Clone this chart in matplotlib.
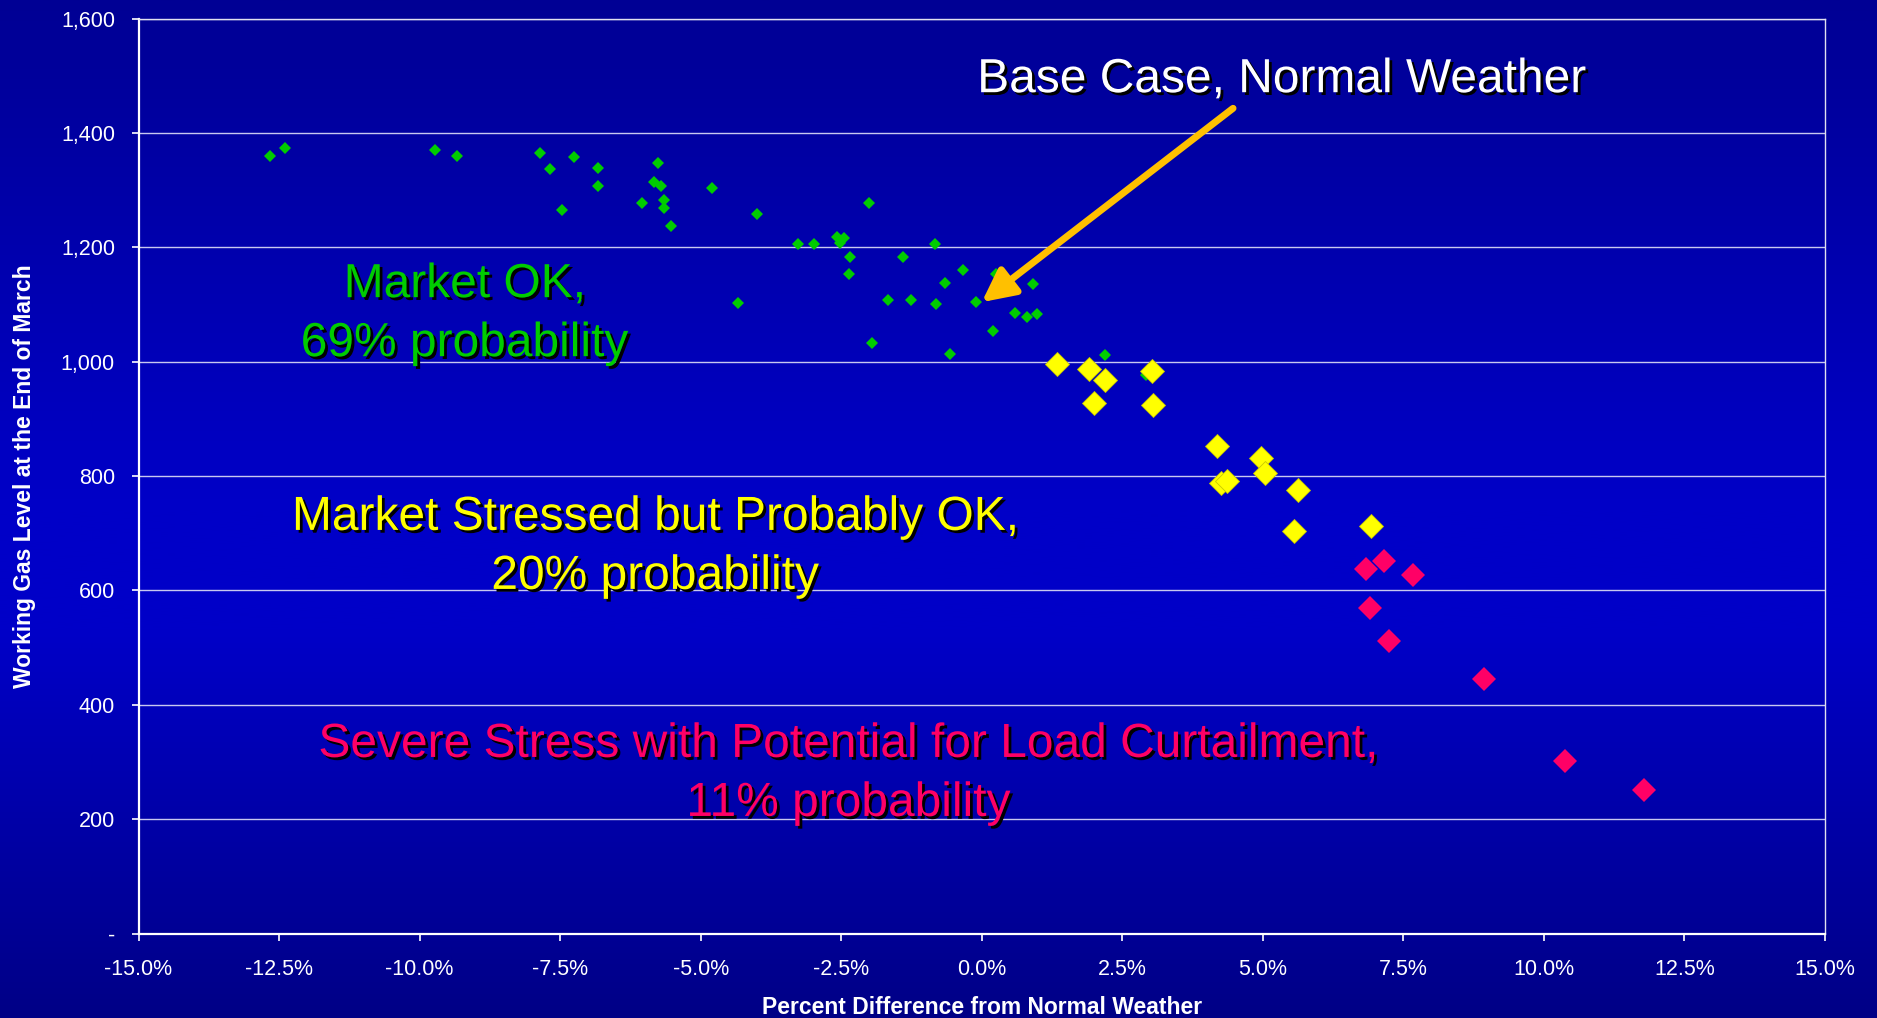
import matplotlib
matplotlib.use("Agg")
import matplotlib.pyplot as plt
import matplotlib.patheffects as pe
from matplotlib.ticker import FuncFormatter
import numpy as np

plt.rcParams['font.family'] = ['Liberation Sans', 'DejaVu Sans']

# Market OK points (percent diff, working gas)
ok_x = [-12.66, -12.40, -9.72, -9.34, -7.85, -7.68, -7.47, -7.25, -6.83, -6.83,
        -6.05, -5.83, -5.76, -5.70, -5.66, -5.65, -5.52, -4.80, -4.33, -3.99,
        -3.27, -2.98, -2.57, -2.45, -2.52, -2.35, -2.37, -2.01, -1.95, -1.66,
        -1.40, -1.25, -0.84, -0.81, -0.65, -0.56, -0.33, -0.11, 0.20, 0.26,
        0.36, 0.60, 0.81, 0.91, 0.99, 2.20, 2.92]
ok_y = [1359, 1374, 1370, 1359, 1365, 1337, 1266, 1358, 1338, 1308,
        1277, 1314, 1347, 1307, 1282, 1269, 1238, 1303, 1102, 1259,
        1206, 1205, 1218, 1217, 1207, 1183, 1153, 1278, 1032, 1107,
        1183, 1107, 1205, 1101, 1138, 1013, 1161, 1105, 1053, 1154,
        1149, 1085, 1078, 1136, 1083, 1011, 976]

# Market stressed points
st_x = [1.34, 1.91, 2.20, 1.99, 3.03, 3.05, 4.19, 4.25, 4.36, 4.97, 5.03, 5.62, 5.55, 6.93]
st_y = [996, 988, 968, 927, 983, 925, 853, 788, 792, 832, 805, 776, 703, 713]

# Severe stress points
sv_x = [6.84, 7.15, 7.67, 6.91, 7.25, 8.94, 10.37, 11.78]
sv_y = [638, 652, 627, 569, 511, 445, 302, 251]

x_ticks = np.arange(-15.0, 15.1, 2.5)
y_ticks = np.arange(0, 1601, 200)

fig = plt.figure(figsize=(18.77, 10.18), dpi=100)

# background gradient
bg = fig.add_axes([0, 0, 1, 1], zorder=-10)
stops = [0.0, 0.5, 0.62, 1.0]
blues = [0x94, 0xC8, 0xC8, 0x86]
t = np.linspace(0, 1, 512)
b = np.interp(t, stops, blues) / 255.0
grad = np.zeros((512, 1, 3))
grad[:, 0, 2] = b
bg.imshow(grad, aspect='auto', extent=[0, 1, 0, 1], interpolation='bilinear')
bg.set_axis_off()

ax = fig.add_axes([0.0738, 0.0830, 0.8985, 0.8988])
ax.set_facecolor('none')

green = '#00CC00'
yellow = '#FFFF00'
red = '#FF0066'

ax.plot(ok_x, ok_y, 'D', color=green, markersize=6.5, markeredgewidth=0, zorder=3)
ax.plot(st_x, st_y, 'D', color=yellow, markersize=12.5, markeredgecolor='#C8C800',
        markeredgewidth=0.6, zorder=4)
ax.plot(sv_x, sv_y, 'D', color=red, markersize=12.5, markeredgewidth=0, zorder=5)

ax.set_xlim(-15, 15)
ax.set_ylim(0, 1600)
ax.set_xticks(x_ticks)
ax.set_yticks(y_ticks)
ax.xaxis.set_major_formatter(FuncFormatter(lambda v, p: f'{v:.1f}%'))
ax.yaxis.set_major_formatter(FuncFormatter(lambda v, p: '-' if v == 0 else f'{v:,.0f}'))

ax.grid(axis='y', color='#C8C8F0', linewidth=1.0)
ax.set_axisbelow(True)
for s in ['left', 'bottom']:
    ax.spines[s].set_color('white')
    ax.spines[s].set_linewidth(1.6)
for s in ['top', 'right']:
    ax.spines[s].set_color('#E0E0F0')
    ax.spines[s].set_linewidth(1.0)

ax.tick_params(colors='white', labelsize=15.5, length=5, width=1.2, direction='out')
ax.tick_params(axis='y', pad=12)
ax.tick_params(axis='x', pad=13)

ax.set_xlabel('Percent Difference from Normal Weather', color='white',
              fontsize=16.5, fontweight='bold', labelpad=12)
ax.set_ylabel('Working Gas Level at the End of March', color='white',
              fontsize=16.5, fontweight='bold', labelpad=18)

shadow = [pe.SimplePatchShadow(offset=(2, -2), shadow_rgbFace='black', alpha=1.0), pe.Normal()]
big = dict(fontsize=34.5, ha='center', va='center', linespacing=1.4,
           path_effects=shadow, zorder=6)

ax.text(-9.20, 1083, 'Market OK,\n69% probability', color=green, **big)
ax.text(-5.81, 676, 'Market Stressed but Probably OK,\n20% probability', color=yellow, **big)
ax.text(-2.37, 279, 'Severe Stress with Potential for Load Curtailment,\n11% probability',
        color=red, **big)
ax.text(5.33, 1493, 'Base Case, Normal Weather', color='white', **big)

ax.annotate('', xy=(0.0, 1104), xytext=(4.47, 1443),
            arrowprops=dict(arrowstyle='-|>,head_length=0.9,head_width=0.45',
                            color='#FFC000', lw=5.0, mutation_scale=22,
                            shrinkA=0, shrinkB=0),
            zorder=7)

fig.savefig('out.png', dpi=100)
